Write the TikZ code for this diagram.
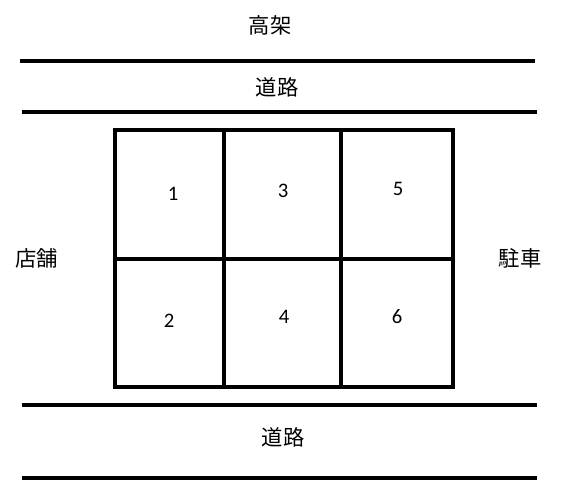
\documentclass[tikz,border=0pt]{standalone}
\usepackage{fontspec}
\newfontfamily\cjk{Noto Sans CJK JP}
\newfontfamily\numf{Carlito}
\begin{document}
\begin{tikzpicture}[x=0.75pt,y=-0.75pt,
  road/.style={line width=2.8pt},
  cell/.style={draw,line width=2.4pt},
  lbl/.style={font=\cjk\fontsize{16}{18}\selectfont, inner sep=0pt},
  num/.style={font=\numf\fontsize{15.5}{17}\selectfont, inner sep=0pt}]
\useasboundingbox (0,0) rectangle (571,492);
% road lines
\coordinate (r1a) at (20,61); \coordinate (r1b) at (535,61);
\coordinate (r2a) at (22,112); \coordinate (r2b) at (537,112);
\coordinate (r3a) at (22,405); \coordinate (r3b) at (537,405);
\coordinate (r4a) at (22,478); \coordinate (r4b) at (537,478);
\draw[road] (r1a) -- (r1b);
\draw[road] (r2a) -- (r2b);
\draw[road] (r3a) -- (r3b);
\draw[road] (r4a) -- (r4b);
% grid
\coordinate (g00) at (115,130); \coordinate (g11) at (453,387);
\draw[cell] (g00) rectangle (g11);
\coordinate (v1t) at (224,130); \coordinate (v1b) at (224,387);
\coordinate (v2t) at (341,130); \coordinate (v2b) at (341,387);
\coordinate (hl) at (115,259); \coordinate (hr) at (453,259);
\draw[cell] (v1t) -- (v1b);
\draw[cell] (v2t) -- (v2b);
\draw[cell] (hl) -- (hr);
% labels
\node[lbl] (gaojia) at (270,25) {高架};
\node[lbl] (road1) at (277,87) {道路};
\node[lbl] (road2) at (283,437) {道路};
\node[lbl] (shop) at (37,258) {店舗};
\node[lbl] (park) at (520,258) {駐車};
% numbers
\node[num] (n1) at (173,194) {1};
\node[num] (n3) at (283,191) {3};
\node[num] (n5) at (398,189) {5};
\node[num] (n2) at (169,321) {2};
\node[num] (n4) at (284,317) {4};
\node[num] (n6) at (397,317) {6};
\end{tikzpicture}
\end{document}
